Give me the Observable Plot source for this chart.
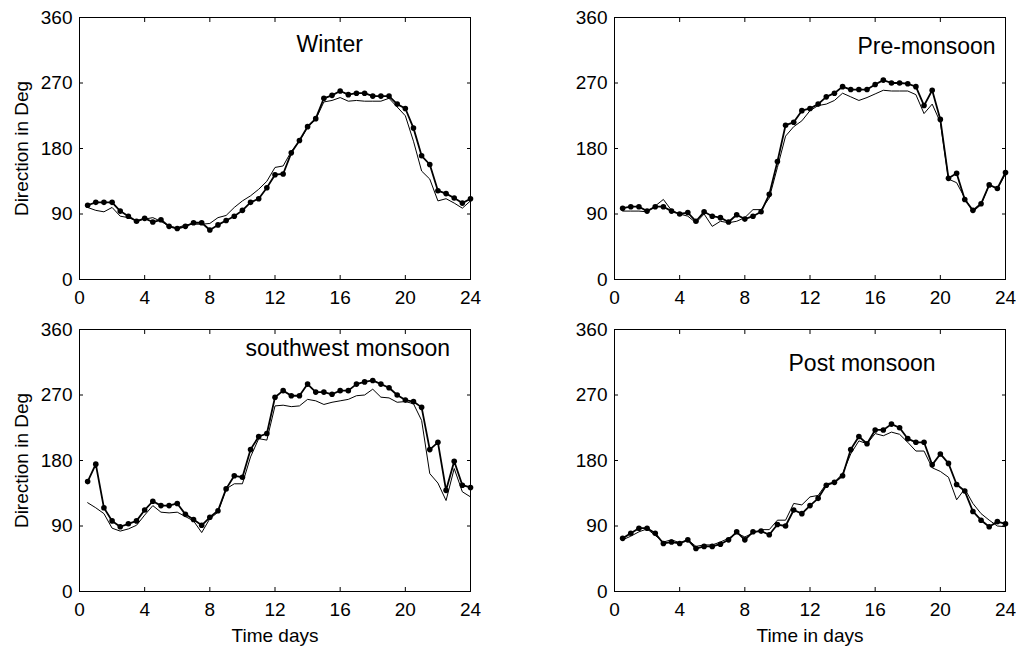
<!DOCTYPE html>
<html>
<head>
<meta charset="utf-8">
<script src="https://cdn.jsdelivr.net/npm/d3@7"></script>
<script src="https://cdn.jsdelivr.net/npm/@observablehq/plot@0.6"></script>
<style>
html, body { margin: 0; padding: 0; background: #fff; }
#fig { position: relative; width: 1016px; height: 646px; background: #fff; overflow: hidden; }
#fig > div { position: absolute; }
</style>
</head>
<body>
<div id="fig"></div>
<script>
// Time in days (sample every half day)
const days = [0.5,1,1.5,2,2.5,3,3.5,4,4.5,5,5.5,6,6.5,7,7.5,8,8.5,9,9.5,10,10.5,11,11.5,12,
              12.5,13,13.5,14,14.5,15,15.5,16,16.5,17,17.5,18,18.5,19,19.5,20,20.5,21,21.5,22,22.5,23,23.5,24];

// Wind direction (deg): observed (line with dots) and simulated (thin line)
const winterObs = [102,106,106,106,94,87,80,84,79,82,73,70,73,78,78,68,75,81,87,95,106,111,126,144,
                   145,174,191,210,221,249,253,259,254,256,256,252,252,252,241,235,208,170,158,122,118,112,105,111];
const winterSim = [99,95,93,99,87,85,81,83,85,80,73,71,75,76,76,77,85,88,99,108,115,124,135,154,
                   156,176,190,209,220,244,246,250,245,246,245,245,245,249,237,225,190,149,138,108,111,105,98,108];

const preObs = [98,100,100,94,100,100,94,90,92,80,93,87,85,79,89,83,87,93,117,162,212,216,232,235,
                241,251,256,265,261,261,261,268,274,270,270,269,265,239,260,220,139,146,110,95,104,130,125,147];
const preSim = [94,94,94,93,101,110,95,90,87,78,90,73,80,78,80,85,96,96,112,154,197,210,218,232,
                239,241,246,256,251,246,250,255,260,259,259,259,254,228,241,216,138,133,112,93,103,130,125,145];

const swObs = [151,175,115,97,89,93,97,112,124,118,118,121,106,99,91,102,111,141,159,157,195,213,217,267,
               276,269,269,285,274,274,271,276,276,285,288,290,285,280,270,263,261,253,195,205,139,179,146,143];
const swSim = [122,115,107,87,83,86,91,105,118,109,108,109,103,97,81,100,109,141,148,148,185,210,208,255,
               256,254,255,264,262,257,260,262,264,269,270,278,267,266,260,261,258,235,162,149,125,169,137,130];

const postObs = [73,80,87,87,80,66,68,66,71,59,62,62,65,71,82,71,82,83,78,92,90,112,107,118,
                 128,146,150,159,195,213,203,222,222,230,225,210,205,205,174,189,176,147,138,110,98,89,96,93];
const postSim = [71,76,82,86,77,68,71,67,71,62,64,64,68,73,80,75,80,85,85,98,98,121,119,130,
                 132,148,150,162,189,207,203,217,214,219,216,205,193,193,170,165,157,126,141,121,107,98,90,89];

const titles = ["Winter", "Pre-monsoon", "southwest monsoon", "Post monsoon"];
const xLabels = ["Time days", "Time in days"];
const yLabel = "Direction in Deg";
const xTicks = [0,4,8,12,16,20,24];
const yTicks = [0,90,180,270,360];

const FONT = "'Liberation Sans', Arial, Helvetica, sans-serif";

function panel(cfg) {
  const data = days.map((t, i) => ({t, obs: cfg.obs[i], sim: cfg.sim[i]}));
  const marks = [
    Plot.line(data, {x: "t", y: "sim", stroke: "#000", strokeWidth: 1}),
    Plot.line(data, {x: "t", y: "obs", stroke: "#000", strokeWidth: 1.8}),
    Plot.dot(data, {x: "t", y: "obs", r: 2.8, fill: "#000", stroke: "none"}),
    Plot.frame({stroke: "#000", strokeWidth: 1}),
    Plot.axisX(xTicks, {anchor: "bottom", tickSize: -4, tickPadding: 15, label: null}),
    Plot.axisX(xTicks, {anchor: "top", tickSize: -4, tickFormat: () => "", label: null}),
    Plot.axisY(yTicks, {anchor: "left", tickSize: -4, tickPadding: 11, label: null}),
    Plot.axisY(yTicks, {anchor: "right", tickSize: -4, tickFormat: () => "", label: null}),
    Plot.text([cfg.title], {text: d => d, frameAnchor: "top-left", dx: cfg.tdx, dy: cfg.tdy,
      textAnchor: "start", lineAnchor: "bottom", fontSize: 23})
  ];
  if (cfg.ylab) marks.push(Plot.text([cfg.ylab], {text: d => d, frameAnchor: "left", rotate: -90,
      dx: -52, textAnchor: "middle", lineAnchor: "bottom", fontSize: 19}));
  if (cfg.xlab) marks.push(Plot.text([cfg.xlab], {text: d => d, frameAnchor: "bottom",
      dy: 50, textAnchor: "middle", lineAnchor: "bottom", fontSize: 19}));
  const svg = Plot.plot({
    width: 508, height: 323,
    marginLeft: cfg.ml, marginRight: cfg.mr, marginTop: cfg.mt, marginBottom: cfg.mb,
    x: {domain: [0, 24]},
    y: {domain: [0, 360]},
    style: {fontFamily: FONT, fontSize: "19px", color: "#000", background: "transparent", overflow: "visible"},
    marks
  });
  const div = document.createElement("div");
  div.style.left = cfg.left + "px";
  div.style.top = cfg.top + "px";
  div.appendChild(svg);
  document.getElementById("fig").appendChild(div);
}

panel({obs: winterObs, sim: winterSim, title: titles[0], tdx: 217, tdy: 34, ylab: yLabel,
       left: 0, top: 0, ml: 79, mr: 38, mt: 17, mb: 44});
panel({obs: preObs, sim: preSim, title: titles[1], tdx: 243, tdy: 36,
       left: 508, top: 0, ml: 106, mr: 11, mt: 17, mb: 44});
panel({obs: swObs, sim: swSim, title: titles[2], tdx: 166, tdy: 26, ylab: yLabel, xlab: xLabels[0],
       left: 0, top: 323, ml: 79, mr: 38, mt: 6, mb: 55});
panel({obs: postObs, sim: postSim, title: titles[3], tdx: 174, tdy: 41, xlab: xLabels[1],
       left: 508, top: 323, ml: 106, mr: 11, mt: 6, mb: 55});
</script>
</body>
</html>
